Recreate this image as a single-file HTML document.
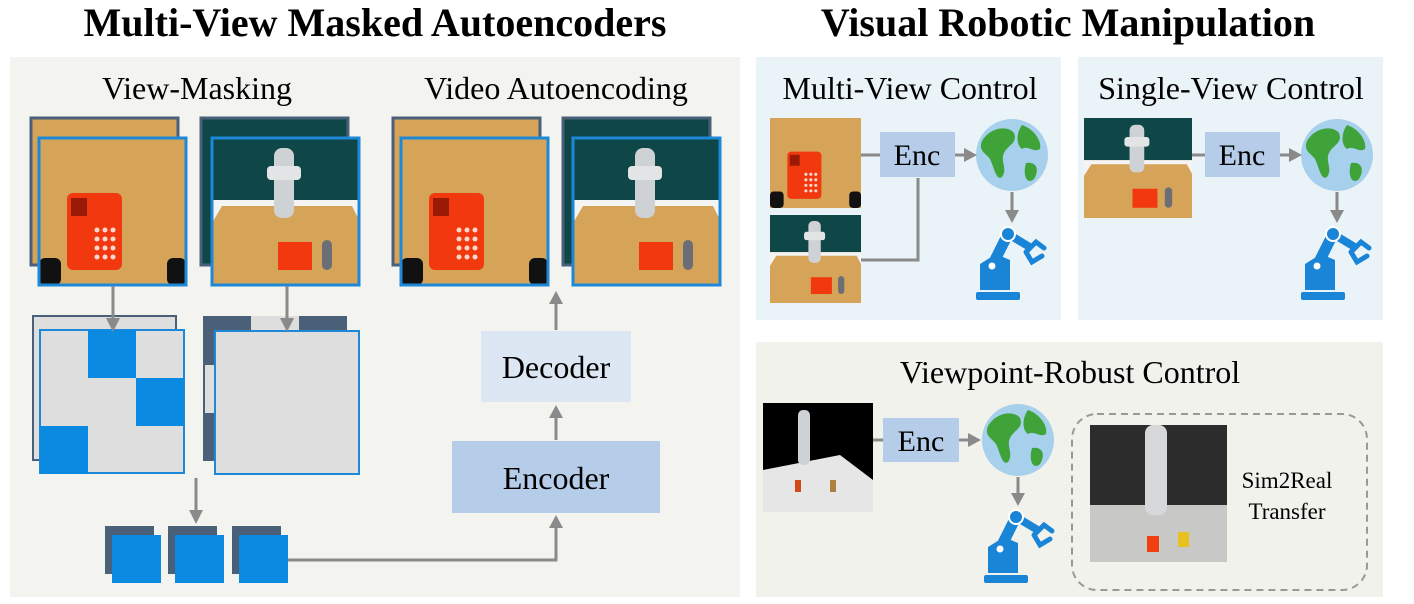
<!DOCTYPE html>
<html><head><meta charset="utf-8"><style>
html,body{margin:0;padding:0;background:#fff;}
svg{display:block;font-family:"Liberation Serif",serif;}
</style></head><body>
<svg width="1414" height="604" viewBox="0 0 1414 604" xmlns="http://www.w3.org/2000/svg">
<defs>
<symbol id="globe" viewBox="-36 -36 72 72">
<circle r="36" fill="#a6d0ec"/>
<path d="M-30,-14 C-22,-28 -4,-30 2,-22 C6,-12 -4,-10 -8,-2 C-12,6 -4,14 -10,22 C-16,26 -18,12 -22,4 C-26,-2 -34,-4 -30,-14z" fill="#3fa33a"/>
<path d="M10,-30 C22,-26 30,-14 28,-6 C22,-2 16,-10 10,-6 C4,-10 4,-22 10,-30z" fill="#3fa33a"/>
<path d="M14,8 C24,6 28,14 22,24 C16,30 10,22 14,8z" fill="#3fa33a"/>
</symbol>
<symbol id="arm" viewBox="0 0 80 80">
<rect x="6" y="70" width="44" height="8" rx="2" fill="#1a84d6"/>
<path d="M10,68 L10,42 L26,32 L40,38 L40,68 z" fill="#1a84d6"/>
<path d="M22,44 L38,12" stroke="#1a84d6" stroke-width="11" stroke-linecap="round"/>
<circle cx="22" cy="44" r="5" fill="#fff" stroke="#1a84d6" stroke-width="3"/>
<path d="M38,12 L58,24" stroke="#1a84d6" stroke-width="8" stroke-linecap="round"/>
<circle cx="38" cy="12" r="7" fill="#1a84d6" stroke="#fff" stroke-width="2"/>
<path d="M56,30 L66,20 L74,26 M56,30 L62,40 L72,34" stroke="#1a84d6" stroke-width="5" fill="none" stroke-linecap="round"/>
</symbol>
<symbol id="phone" viewBox="0 0 147 147">
<rect width="147" height="147" fill="#d6a459"/>
<rect x="28" y="55" width="55" height="77" rx="6" fill="#f2380e"/>
<rect x="32" y="60" width="16" height="18" fill="#9a1a08"/>
<g fill="#ffffff" opacity="0.8"><circle cx="58" cy="92" r="2.5"/><circle cx="66" cy="92" r="2.5"/><circle cx="74" cy="92" r="2.5"/><circle cx="58" cy="101" r="2.5"/><circle cx="66" cy="101" r="2.5"/><circle cx="74" cy="101" r="2.5"/><circle cx="58" cy="110" r="2.5"/><circle cx="66" cy="110" r="2.5"/><circle cx="74" cy="110" r="2.5"/><circle cx="58" cy="119" r="2.5"/><circle cx="66" cy="119" r="2.5"/><circle cx="74" cy="119" r="2.5"/></g>
<rect x="0" y="120" width="22" height="27" rx="6" fill="#111"/>
<rect x="128" y="120" width="19" height="27" rx="6" fill="#111"/>
</symbol>
<symbol id="scene" viewBox="0 0 147 147">
<rect width="147" height="147" fill="#d6a459"/>
<rect width="147" height="62" fill="#0f4648"/>
<path d="M0,62 L147,62 L147,82 L140,68 L10,68 L0,85z" fill="#f4f4f4"/>
<rect x="62" y="10" width="20" height="70" rx="8" fill="#cfd2d4"/>
<rect x="55" y="28" width="34" height="14" rx="4" fill="#e2e4e6"/>
<rect x="66" y="104" width="34" height="28" fill="#f2380e"/>
<rect x="110" y="102" width="10" height="30" rx="5" fill="#6b6f75"/>
</symbol>
</defs>

<text x="375" y="36" font-size="40" font-weight="bold" text-anchor="middle">Multi-View Masked Autoencoders</text>
<text x="1068" y="36" font-size="40" font-weight="bold" text-anchor="middle">Visual Robotic Manipulation</text>

<rect x="10" y="57" width="730" height="540" fill="#f3f3f0"/>
<rect x="756" y="57" width="305" height="263" fill="#eaf3f8"/>
<rect x="1078" y="57" width="305" height="263" fill="#eaf3f8"/>
<rect x="756" y="342" width="627" height="255" fill="#f2f2ec"/>

<text x="197" y="99" font-size="32" text-anchor="middle">View-Masking</text>
<text x="556" y="99" font-size="32" text-anchor="middle">Video Autoencoding</text>

<rect x="31" y="118" width="147" height="147" fill="#d6a459" stroke="#4a6078" stroke-width="3"/>
<svg x="39" y="138" width="147" height="147"><use href="#phone"/></svg>
<rect x="39" y="138" width="147" height="147" fill="none" stroke="#1e88d8" stroke-width="3"/>
<rect x="201" y="118" width="147" height="147" fill="#0f4648" stroke="#4a6078" stroke-width="3"/>
<svg x="212" y="138" width="147" height="147"><use href="#scene"/></svg>
<rect x="212" y="138" width="147" height="147" fill="none" stroke="#1e88d8" stroke-width="3"/>
<rect x="393" y="118" width="147" height="147" fill="#d6a459" stroke="#4a6078" stroke-width="3"/>
<svg x="401" y="138" width="147" height="147"><use href="#phone"/></svg>
<rect x="401" y="138" width="147" height="147" fill="none" stroke="#1e88d8" stroke-width="3"/>
<rect x="563" y="118" width="147" height="147" fill="#0f4648" stroke="#4a6078" stroke-width="3"/>
<svg x="573" y="138" width="147" height="147"><use href="#scene"/></svg>
<rect x="573" y="138" width="147" height="147" fill="none" stroke="#1e88d8" stroke-width="3"/>

<rect x="33" y="316" width="143" height="144" fill="#dedede" stroke="#4a6078" stroke-width="2"/>
<rect x="40" y="330" width="144" height="143" fill="#dedede" stroke="#1e88d8" stroke-width="2"/>
<rect x="88" y="330" width="48" height="48" fill="#0a8ae0"/>
<rect x="136" y="378" width="48" height="48" fill="#0a8ae0"/>
<rect x="40" y="426" width="48" height="48" fill="#0a8ae0"/>

<rect x="203" y="316" width="144" height="145" fill="#4a6078"/>
<rect x="251" y="316" width="48" height="14" fill="#dedede"/>
<rect x="205" y="365" width="10" height="48" fill="#dedede"/>
<rect x="215" y="331" width="144" height="143" fill="#dedede" stroke="#1e88d8" stroke-width="2"/>

<rect x="105" y="526" width="49" height="48" fill="#4a6078"/><rect x="112" y="535" width="49" height="48" fill="#0a8ae0"/>
<rect x="168" y="526" width="49" height="48" fill="#4a6078"/><rect x="175" y="535" width="49" height="48" fill="#0a8ae0"/>
<rect x="232" y="526" width="49" height="48" fill="#4a6078"/><rect x="239" y="535" width="49" height="48" fill="#0a8ae0"/>

<rect x="452" y="441" width="208" height="72" fill="#b6cde9"/>
<text x="556" y="489" font-size="32" text-anchor="middle">Encoder</text>
<rect x="481" y="331" width="150" height="71" fill="#dde7f4"/>
<text x="556" y="378" font-size="32" text-anchor="middle">Decoder</text>

<text x="910" y="99" font-size="32" text-anchor="middle">Multi-View Control</text>
<text x="1231" y="99" font-size="32" text-anchor="middle">Single-View Control</text>

<svg x="770" y="118" width="91" height="90" viewBox="0 0 147 147" preserveAspectRatio="none"><use href="#phone"/></svg>
<svg x="770" y="215" width="91" height="88" viewBox="0 0 147 147" preserveAspectRatio="none"><use href="#scene"/></svg>
<rect x="880" y="132" width="75" height="45" fill="#b6cde9"/>
<text x="917" y="165" font-size="30" text-anchor="middle">Enc</text>
<svg x="976" y="119" width="72" height="72"><use href="#globe"/></svg>
<svg x="970" y="222" width="80" height="80"><use href="#arm"/></svg>

<svg x="1084" y="118" width="108" height="100" viewBox="0 0 147 147" preserveAspectRatio="none"><use href="#scene"/></svg>
<rect x="1205" y="132" width="75" height="45" fill="#b6cde9"/>
<text x="1242" y="165" font-size="30" text-anchor="middle">Enc</text>
<svg x="1301" y="119" width="72" height="72"><use href="#globe"/></svg>
<svg x="1295" y="222" width="80" height="80"><use href="#arm"/></svg>

<text x="1070" y="383" font-size="32" text-anchor="middle">Viewpoint-Robust Control</text>
<rect x="763" y="403" width="110" height="109" fill="#000"/>
<path d="M763,470 L840,455 L873,480 L873,512 L763,512z" fill="#e6e6e6"/>
<rect x="798" y="410" width="12" height="55" rx="5" fill="#cfd2d4"/>
<rect x="795" y="480" width="6" height="12" fill="#d04a1a"/><rect x="830" y="480" width="6" height="12" fill="#b08040"/>
<rect x="883" y="418" width="76" height="44" fill="#b6cde9"/>
<text x="921" y="451" font-size="30" text-anchor="middle">Enc</text>
<svg x="982" y="404" width="72" height="72"><use href="#globe"/></svg>
<svg x="978" y="505" width="80" height="80"><use href="#arm"/></svg>
<rect x="1072" y="414" width="295" height="176" rx="25" fill="none" stroke="#999" stroke-width="2" stroke-dasharray="7,5"/>
<rect x="1090" y="425" width="137" height="137" fill="#2c2c2c"/>
<rect x="1090" y="505" width="137" height="57" fill="#c8c9c6"/>
<rect x="1145" y="425" width="22" height="90" rx="8" fill="#d6d8da"/>
<rect x="1147" y="536" width="12" height="16" fill="#f04010"/><rect x="1178" y="532" width="11" height="15" fill="#e8c020"/>
<text x="1287" y="488" font-size="23" text-anchor="middle">Sim2Real</text>
<text x="1287" y="519" font-size="23" text-anchor="middle">Transfer</text>

<g stroke="#8a8a8a" stroke-width="3" fill="none">
<line x1="113" y1="286" x2="113" y2="322"/>
<line x1="287" y1="286" x2="287" y2="322"/>
<line x1="196" y1="478" x2="196" y2="514"/>
<polyline points="288,560 556,560 556,524"/>
<line x1="556" y1="440" x2="556" y2="414"/>
<line x1="556" y1="330" x2="556" y2="300"/>
<line x1="861" y1="155" x2="880" y2="155"/>
<polyline points="861,260 918,260 918,178"/>
<line x1="955" y1="155" x2="966" y2="155"/>
<line x1="1012" y1="192" x2="1012" y2="214"/>
<line x1="1192" y1="155" x2="1205" y2="155"/>
<line x1="1280" y1="155" x2="1291" y2="155"/>
<line x1="1337" y1="192" x2="1337" y2="214"/>
<line x1="873" y1="440" x2="883" y2="440"/>
<line x1="959" y1="440" x2="970" y2="440"/>
<line x1="1018" y1="477" x2="1018" y2="497"/>
</g>
<g fill="#8a8a8a">
<polygon points="106,318 120,318 113,332"/>
<polygon points="280,318 294,318 287,332"/>
<polygon points="189,510 203,510 196,524"/>
<polygon points="549,528 563,528 556,515"/>
<polygon points="549,418 563,418 556,405"/>
<polygon points="549,304 563,304 556,291"/>
<polygon points="964,148 964,162 977,155"/>
<polygon points="1005,210 1019,210 1012,223"/>
<polygon points="1289,148 1289,162 1302,155"/>
<polygon points="1330,210 1344,210 1337,223"/>
<polygon points="968,433 968,447 981,440"/>
<polygon points="1011,493 1025,493 1018,506"/>
</g>
</svg>
</body></html>
